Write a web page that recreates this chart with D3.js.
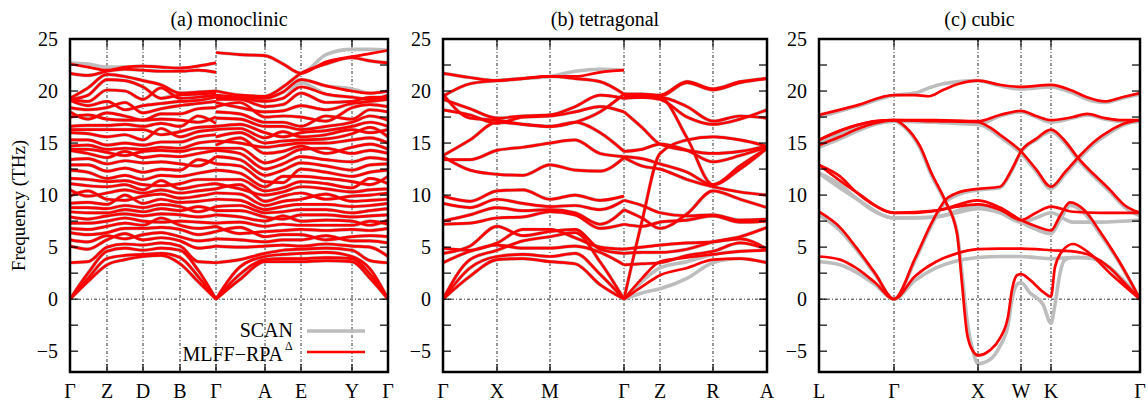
<!DOCTYPE html>
<html>
<head>
<meta charset="utf-8">
<script src="https://cdn.jsdelivr.net/npm/d3@7"></script>
<style>
body { margin: 0; background: #fff; }
svg, text { font-family: "Liberation Serif", "Times New Roman", Times, serif; }
</style>
</head>
<body>
<svg id="chart" width="1148" height="402"></svg>
<script>
// ---------- data ----------
var panelTitles = ["(a) monoclinic", "(b) tetragonal", "(c) cubic"];
var seriesNames = ["SCAN", "MLFF\u2212RPA"];
var yLabelValues = [-5, 0, 5, 10, 15, 20, 25];

// (a) monoclinic: path distance of labels and sampled columns (36 bands each)
var monoLabels = ["\u0393", "Z", "D", "B", "\u0393", "A", "E", "Y", "\u0393"];
var monoLabelK = [0, 37, 73, 110, 146, 195, 231, 282, 318];
var monoK1 = [0, 18, 37, 55, 73, 91, 110, 128, 146];
var monoK2 = [146, 170, 195, 213, 231, 256, 282, 300, 318];
var monoCols1 = [
  [0,0,0,3.5,5.1,5.7,6.4,6.8,7.3,7.9,8.4,8.8,9.2,9.9,10.5,11.1,11.6,12.4,12.9,13.4,14.3,14.4,14.7,15.3,16.0,16.3,16.6,17.5,18.0,18.4,19.1,19.2,19.2,19.3,21.7,22.6],
  [1.7,2.0,2.5,3.6,4.8,5.5,6.2,6.7,7.3,7.7,8.3,8.8,9.3,9.9,10.4,10.9,11.5,12.2,12.9,13.5,14.0,14.4,14.8,15.3,15.9,16.3,16.7,17.3,17.7,18.2,18.6,19.0,19.6,20.3,21.5,22.3],
  [3.3,3.9,4.6,5.0,5.7,6.1,6.4,7.0,7.5,8.0,8.3,8.7,9.1,9.6,10.2,10.8,11.3,11.6,12.3,13.0,13.6,14.1,14.4,14.8,15.6,16.3,16.7,17.3,17.9,18.4,19.0,20.1,21.1,21.6,21.9,22.0],
  [3.8,4.2,4.9,5.3,5.8,6.3,6.8,7.3,7.8,8.2,8.6,9.0,9.5,10.0,10.5,11.0,11.4,11.9,12.6,13.3,13.8,14.2,14.5,15.0,15.8,16.3,16.8,17.2,17.6,18.2,18.9,20.0,21.0,21.4,22.1,22.3],
  [4.1,4.3,4.7,5.2,5.7,6.2,6.8,7.1,7.5,8.0,8.4,8.8,9.2,9.9,10.2,10.5,11.0,11.5,12.2,13.1,13.6,14.2,14.4,14.8,15.3,16.3,16.6,17.2,17.2,17.9,18.6,19.2,20.4,21.0,22.0,22.4],
  [4.2,4.4,4.9,5.4,5.9,6.4,6.9,7.4,7.8,8.2,8.7,9.1,9.6,10.1,10.5,10.9,11.4,11.9,12.5,13.2,13.8,14.3,14.6,15.1,15.8,16.4,16.9,17.3,17.8,18.3,18.8,19.3,20.3,20.6,21.9,22.3],
  [3.4,4.0,4.7,5.1,5.6,6.0,6.7,7.1,7.5,8.1,8.5,8.9,9.3,9.7,10.2,10.6,11.1,11.8,12.4,13.0,13.7,14.2,14.5,15.1,15.6,16.1,16.6,17.2,17.8,18.6,19.0,19.3,19.6,19.8,21.9,22.2],
  [1.7,2.2,2.8,3.6,4.9,5.6,6.2,6.8,7.4,7.9,8.4,8.9,9.4,9.9,10.4,10.9,11.5,12.1,12.8,13.4,14.0,14.5,15.0,15.6,16.1,16.5,17.0,17.6,18.3,18.8,19.1,19.4,19.7,19.9,22.0,22.4],
  [0,0,0,3.5,5.1,5.8,6.5,7.0,7.3,8.1,8.5,8.9,9.6,10.2,10.6,11.1,11.5,12.4,13.0,13.7,14.3,14.5,15.2,15.8,16.3,16.6,16.9,17.5,18.4,19.0,19.4,19.6,19.8,20.0,21.8,22.7]
];
var monoCols2 = [
  [0,0,0,3.5,5.1,5.8,6.5,7.0,7.3,8.1,8.5,8.9,9.6,10.2,10.6,11.1,11.5,12.4,13.0,13.7,14.3,14.5,14.8,15.2,15.6,16.3,16.6,17.4,18.0,18.5,18.9,19.2,19.4,19.6,20.0,23.7],
  [1.9,2.4,3.1,3.8,5.0,5.7,6.3,6.9,7.4,7.9,8.5,9.0,9.5,10.1,10.6,11.0,11.5,12.1,12.8,13.4,14.0,14.5,15.0,15.5,16.0,16.4,16.8,17.3,17.8,18.4,18.9,19.2,19.3,19.4,19.6,23.5],
  [3.6,3.8,4.1,4.4,5.1,5.5,6.0,6.5,7.0,7.5,7.9,8.3,8.6,9.0,9.4,10.0,10.4,10.8,11.3,11.9,12.5,13.1,14.0,14.6,15.0,15.5,16.0,16.6,17.0,17.5,18.0,18.5,19.0,19.3,19.5,23.4],
  [3.6,3.9,4.3,4.7,5.2,5.7,6.2,6.6,7.2,7.7,8.0,8.4,8.9,9.4,9.9,10.3,10.7,11.2,11.8,12.4,13.0,13.6,14.2,14.8,15.2,15.6,16.1,16.6,17.0,17.6,18.1,18.7,19.3,19.9,20.4,22.6],
  [3.6,3.9,4.4,4.8,5.1,5.7,6.2,6.7,7.1,7.5,8.1,8.6,9.1,9.6,10.2,10.8,11.3,11.8,12.5,13.1,13.7,14.4,14.7,15.0,15.3,15.6,16.0,16.3,16.6,17.5,18.6,19.8,20.4,21.1,21.7,21.7],
  [3.7,4.0,4.5,4.9,5.3,5.7,6.1,6.6,7.1,7.6,8.1,8.6,9.1,9.6,10.1,10.6,11.1,11.6,12.2,12.8,13.4,14.0,14.5,15.0,15.4,15.8,16.2,16.6,17.1,17.6,18.2,18.9,19.7,20.5,22.6,22.8],
  [3.6,3.9,4.1,4.7,5.1,5.6,6.0,6.7,7.1,7.5,7.9,8.3,8.9,9.4,9.9,10.3,10.7,11.3,11.8,12.4,13.2,14.0,14.6,15.3,15.9,16.3,16.6,17.0,17.3,18.4,18.8,19.0,19.4,20.0,23.2,23.3],
  [2.0,2.4,2.9,3.7,5.0,5.6,6.1,6.6,7.1,7.5,8.0,8.5,9.0,9.5,10.0,10.5,11.0,11.6,12.2,12.9,13.6,14.3,14.9,15.5,16.0,16.5,17.0,17.6,18.2,18.7,19.0,19.2,19.4,19.8,22.9,23.6],
  [0,0,0,3.5,4.1,5.4,6.0,6.8,7.2,7.6,8.1,8.7,9.2,9.6,10.2,10.6,11.1,11.8,12.4,13.0,13.4,14.0,14.4,15.0,15.6,16.3,16.6,17.2,18.0,18.5,19.2,19.4,19.6,20.0,22.7,23.9]
];
// band pairs that cross at a column: [group, column, lower band]
var monoCross = [
  [0,1,13],[0,1,27],[0,3,4],[0,3,12],[0,3,20],[0,3,29],[0,5,7],[0,5,15],[0,5,24],[0,5,31],
  [0,7,10],[0,7,18],[0,7,26],[1,1,6],[1,1,14],[1,1,22],[1,1,29],[1,3,9],[1,3,17],[1,3,25],
  [1,5,5],[1,5,13],[1,5,21],[1,5,28],[1,7,8],[1,7,16],[1,7,24],[1,7,31]
];
// SCAN values where they differ from MLFF: [group, column, band, value]
var monoScanFix = [
  [0,0,35,22.7],[0,1,35,22.6],[0,2,35,22.3],[0,6,32,19.8],
  [1,5,35,23.5],[1,6,35,24.0],[1,7,35,24.0],[1,6,33,20.2],[1,4,32,20.8]
];

// (b) tetragonal: 18 bands, one row per band
var tetLabels = ["\u0393", "X", "M", "\u0393", "Z", "R", "A"];
var tetLabelK = [0, 54, 107, 181, 217, 270, 324];
var tetK1 = [0, 27, 54, 80, 107, 132, 157, 181];
var tetK2 = [181, 199, 217, 244, 270, 297, 324];
var tetRows1 = [
  [0, 2.2, 3.8, 3.9, 3.6, 3.4, 1.4, 0],
  [0, 3.0, 4.1, 4.3, 4.1, 4.4, 2.4, 0],
  [0, 3.8, 4.7, 5.6, 6.0, 6.4, 3.6, 0],
  [3.5, 4.6, 5.2, 4.9, 4.9, 5.1, 4.5, 3.3],
  [4.4, 5.1, 7.0, 6.1, 6.5, 6.7, 4.8, 4.4],
  [4.9, 4.7, 5.4, 6.7, 6.7, 5.9, 5.0, 4.8],
  [7.2, 7.3, 7.8, 7.9, 8.4, 8.1, 6.8, 7.2],
  [7.5, 8.1, 8.8, 8.5, 8.6, 8.3, 7.2, 8.6],
  [9.2, 8.8, 9.6, 9.2, 8.9, 9.0, 8.6, 9.5],
  [9.9, 9.4, 10.4, 10.5, 9.6, 10.0, 9.5, 9.9],
  [13.7, 12.4, 12.0, 11.9, 12.9, 12.4, 12.3, 13.6],
  [13.4, 13.4, 14.3, 14.6, 15.0, 15.3, 14.0, 13.7],
  [13.8, 15.3, 17.0, 16.8, 16.6, 17.0, 16.0, 14.2],
  [18.2, 17.7, 16.9, 17.5, 17.6, 18.0, 18.5, 18.0],
  [19.2, 18.3, 17.4, 17.6, 17.7, 18.5, 19.6, 19.3],
  [19.5, 20.7, 21.0, 21.2, 21.4, 21.2, 20.9, 19.7],
  [19.7, 17.4, 17.2, 16.8, 16.6, 17.0, 18.0, 19.7],
  [21.7, 21.3, 21.0, 21.2, 21.4, 21.4, 21.8, 22.0]
];
var tetRows2 = [
  [0, 1.2, 2.3, 3.0, 3.8, 3.9, 3.5],
  [0, 2.0, 3.6, 4.0, 4.3, 4.6, 4.7],
  [0, 7.5, 14.0, 15.3, 15.6, 15.3, 14.7],
  [3.3, 3.4, 3.5, 4.2, 4.6, 5.4, 4.8],
  [4.4, 4.5, 4.5, 4.8, 5.5, 6.0, 6.9],
  [4.8, 5.0, 5.2, 5.4, 5.5, 5.8, 4.8],
  [7.2, 7.0, 7.4, 7.6, 8.0, 7.4, 7.5],
  [8.6, 7.8, 6.8, 8.2, 10.4, 9.6, 8.8],
  [9.5, 9.0, 8.3, 8.0, 8.1, 7.6, 7.7],
  [13.6, 12.8, 12.5, 11.5, 10.8, 10.3, 10.0],
  [13.7, 13.5, 13.0, 12.2, 11.0, 12.5, 14.5],
  [14.2, 14.4, 14.9, 14.3, 13.2, 13.8, 14.6],
  [18.0, 16.5, 14.9, 14.3, 14.0, 14.2, 14.7],
  [19.3, 19.4, 19.2, 17.5, 16.8, 17.3, 18.2],
  [19.4, 19.4, 19.4, 18.5, 17.1, 17.6, 17.4],
  [19.6, 19.5, 19.4, 15.5, 11.0, 12.8, 14.5],
  [19.7, 19.6, 19.5, 20.8, 20.1, 20.8, 21.2],
  [19.7, 19.7, 19.6, 20.9, 20.2, 20.9, 21.2]
];
// SCAN values where they differ: [group, band, column, value]
var tetScanFix = [
  [0,17,5,21.9],[0,17,6,22.1],
  [1,0,1,0.6],[1,0,2,1.0],[1,0,3,2.0],[1,0,4,3.5],[1,1,1,1.7],[1,1,2,3.0],[1,1,3,3.6]
];

// (c) cubic: each branch as [path distance, THz]
var cubLabels = ["L", "\u0393", "X", "W", "K", "\u0393"];
var cubLabelK = [0, 75, 159, 202, 232, 321];
var cubRed = [
  [[0,17.7],[37,18.6],[75,19.6],[96,19.6],[110,19.5],[124,20.1],[140,20.7],[159,21.0],[181,20.6],[202,20.4],[232,20.6],[254,20.0],[268,19.4],[286,19.0],[303,19.4],[321,19.8]],
  [[0,15.3],[21,16.2],[37,16.7],[56,17.1],[75,17.2],[117,17.2],[159,17.1],[181,17.7],[202,18.1],[217,17.6],[232,17.2],[254,17.5],[268,17.8],[286,17.4],[303,17.2],[321,17.2]],
  [[0,14.8],[21,15.6],[37,16.3],[56,16.9],[75,17.2],[86,16.6],[101,14.7],[113,12.0],[126,9.5],[138,6.3],[143,1.5],[148,-3.3],[154,-5.0],[159,-5.4],[171,-4.9],[181,-3.75],[189,-1.7],[193,0.9],[198,2.3],[202,2.4],[211,1.85],[224,0.7],[232,0.25],[236,3.1],[244,4.7],[254,5.3],[268,4.6],[291,2.5],[321,0]],
  [[0,12.9],[21,11.8],[37,10.3],[56,9.0],[75,8.3],[96,8.3],[117,8.5],[138,8.9],[159,9.1],[181,8.6],[202,7.6],[217,8.3],[232,8.9],[254,8.4],[281,8.3],[321,8.3]],
  [[0,12.9],[37,10.3],[75,8.3],[117,8.5],[159,9.5],[181,8.8],[202,7.6],[217,7.0],[232,6.6],[241,8.0],[251,9.3],[266,8.5],[281,6.5],[301,3.5],[321,0]],
  [[0,8.4],[21,6.9],[37,5.0],[56,2.5],[75,0],[96,3.9],[113,7.4],[126,9.5],[138,10.2],[159,10.6],[181,10.8],[193,12.5],[202,14.2],[217,15.4],[232,16.3],[246,15.2],[258,13.7],[291,10.5],[306,9.0],[321,8.3]],
  [[0,15.3],[37,16.7],[75,17.2],[117,17.1],[159,17.0],[171,16.5],[181,15.8],[202,14.2],[217,12.5],[232,10.8],[246,12.2],[261,13.8],[276,15.2],[291,16.2],[306,16.9],[321,17.2]],
  [[0,4.1],[21,3.8],[37,3.0],[56,1.6],[75,0],[96,2.2],[117,3.6],[138,4.4],[159,4.8],[181,4.85],[202,4.85],[217,4.8],[232,4.7],[254,4.6],[274,4.1],[291,3.0],[306,1.5],[321,0]]
];
var cubScan = [
  [[0,17.5],[37,18.5],[75,19.6],[96,19.8],[110,20.3],[124,20.7],[140,20.9],[159,21.0],[181,20.5],[202,20.2],[232,20.4],[254,19.8],[268,19.2],[286,18.9],[303,19.3],[321,19.7]],
  [[0,15.0],[21,15.9],[37,16.5],[56,17.0],[75,17.1],[117,17.0],[159,16.8],[181,17.6],[202,18.0],[217,17.5],[232,17.0],[254,17.4],[268,17.7],[286,17.3],[303,17.1],[321,17.1]],
  [[0,14.6],[21,15.4],[37,16.1],[56,16.8],[75,17.1],[86,16.5],[101,14.5],[113,11.8],[126,9.4],[138,6.5],[143,2.5],[148,-2.0],[154,-5.0],[159,-6.2],[171,-5.8],[181,-4.5],[189,-2.5],[193,0.0],[198,1.4],[202,1.6],[211,0.6],[224,-0.5],[232,-2.3],[236,-0.5],[241,2.5],[246,3.8],[254,4.0],[268,4.0],[291,3.0],[321,0]],
  [[0,12.1],[21,11.0],[37,9.7],[56,8.4],[75,7.8],[96,7.8],[117,7.9],[138,8.3],[159,8.7],[181,8.3],[202,7.4],[217,7.8],[232,8.3],[254,7.4],[281,7.4],[321,7.6]],
  [[0,12.1],[37,9.7],[75,7.8],[117,7.9],[159,9.0],[181,8.4],[202,7.4],[217,6.7],[232,6.3],[241,7.6],[251,9.0],[266,8.2],[281,6.3],[301,3.4],[321,0]],
  [[0,8.1],[21,6.6],[37,4.8],[56,2.4],[75,0],[96,3.7],[113,7.2],[126,9.3],[138,10.0],[159,10.5],[181,10.7],[193,12.4],[202,14.1],[217,15.3],[232,16.1],[246,15.0],[258,13.5],[291,10.3],[306,8.8],[321,8.0]],
  [[0,15.0],[37,16.5],[75,17.1],[117,17.0],[159,16.8],[171,16.3],[181,15.6],[202,14.0],[217,12.3],[232,10.6],[246,12.0],[261,13.6],[276,15.0],[291,16.0],[306,16.8],[321,17.1]],
  [[0,3.6],[21,3.3],[37,2.6],[56,1.4],[75,0],[96,1.8],[117,3.0],[138,3.7],[159,4.0],[181,4.1],[202,4.1],[217,4.0],[232,3.9],[254,4.0],[274,3.9],[291,3.0],[306,1.5],[321,0]]
];

// ---------- layout ----------
var svgWidth = 1148;
var svgHeight = 402;
var plotTop = 39;
var plotBottom = 372;
var frames = [[70, 388], [443, 767], [819, 1140]];

var svg = d3.select("#chart");

var y = d3.scaleLinear().domain([-7, 25]).range([plotBottom, plotTop]);

// turn columns (one value per band at each sampled k) into band polylines
function columnsToBands(k, cols, fix, cross, group) {
  var c = cols.map(function(col) { return col.slice(); });
  (cross || []).filter(f => f[0] === group).forEach(function(f) {
    var t = c[f[1]][f[2]];
    c[f[1]][f[2]] = c[f[1]][f[2] + 1];
    c[f[1]][f[2] + 1] = t;
  });
  (fix || []).filter(f => f[0] === group).forEach(function(f) {
    c[f[1]][f[2]] = f[3];
  });
  return d3.range(c[0].length).map(function(b) {
    return k.map(function(kk, i) { return [kk, c[i][b]]; });
  });
}

// rows are already one band each
function rowsToBands(k, rows, fix, group) {
  var r = rows.map(row => row.slice());
  (fix || []).filter(f => f[0] === group).forEach(function(f) {
    r[f[1]][f[2]] = f[3];
  });
  return r.map(row => k.map((kk, i) => [kk, row[i]]));
}

var panels = [
  {
    labels: monoLabels, labelK: monoLabelK,
    red: columnsToBands(monoK1, monoCols1, null, monoCross, 0)
      .concat(columnsToBands(monoK2, monoCols2, null, monoCross, 1)),
    grey: columnsToBands(monoK1, monoCols1, monoScanFix, monoCross, 0)
      .concat(columnsToBands(monoK2, monoCols2, monoScanFix, monoCross, 1))
  },
  {
    labels: tetLabels, labelK: tetLabelK,
    red: rowsToBands(tetK1, tetRows1, null, 0).concat(rowsToBands(tetK2, tetRows2, null, 1)),
    grey: rowsToBands(tetK1, tetRows1, tetScanFix, 0).concat(rowsToBands(tetK2, tetRows2, tetScanFix, 1))
  },
  { labels: cubLabels, labelK: cubLabelK, red: cubRed, grey: cubScan }
];

panels.forEach(function(p, pi) {
  var left = frames[pi][0], right = frames[pi][1];
  var x = d3.scaleLinear()
    .domain([p.labelK[0], p.labelK[p.labelK.length - 1]])
    .range([left, right]);

  var g = svg.append("g");

  g.append("clipPath").attr("id", "clip" + pi)
    .append("rect")
    .attr("x", left).attr("y", plotTop)
    .attr("width", right - left).attr("height", plotBottom - plotTop);

  // high-symmetry lines and zero line
  g.selectAll(".vline")
    .data(p.labelK.slice(1, -1))
    .enter().append("line")
    .attr("x1", d => x(d)).attr("x2", d => x(d))
    .attr("y1", plotTop).attr("y2", plotBottom)
    .attr("stroke", "#000").attr("stroke-width", 0.8)
    .attr("stroke-dasharray", "3,2,1,2");

  g.append("line")
    .attr("x1", left).attr("x2", right)
    .attr("y1", y(0)).attr("y2", y(0))
    .attr("stroke", "#000").attr("stroke-width", 0.8)
    .attr("stroke-dasharray", "3,2,1,2");

  var line = d3.line()
    .x(d => x(d[0]))
    .y(d => y(d[1]))
    .curve(d3.curveMonotoneX);

  var bands = g.append("g").attr("clip-path", "url(#clip" + pi + ")");

  bands.selectAll(".scan")
    .data(p.grey)
    .enter().append("path")
    .attr("d", line)
    .attr("fill", "none")
    .attr("stroke", "#bdbdbd")
    .attr("stroke-width", 3.6)
    .attr("stroke-linejoin", "round");

  bands.selectAll(".mlff")
    .data(p.red)
    .enter().append("path")
    .attr("d", line)
    .attr("fill", "none")
    .attr("stroke", "#ff0000")
    .attr("stroke-width", 2.7)
    .attr("stroke-linejoin", "round");

  // y ticks (inward, both sides)
  var yTicks = d3.range(-5, 25.01, 2.5);
  g.selectAll(".ytl")
    .data(yTicks)
    .enter().append("line")
    .attr("x1", left).attr("x2", left + 8)
    .attr("y1", d => y(d)).attr("y2", d => y(d))
    .attr("stroke", "#000").attr("stroke-width", 1.2);
  g.selectAll(".ytr")
    .data(yTicks)
    .enter().append("line")
    .attr("x1", right - 8).attr("x2", right)
    .attr("y1", d => y(d)).attr("y2", d => y(d))
    .attr("stroke", "#000").attr("stroke-width", 1.2);

  g.selectAll(".ylab")
    .data(yLabelValues)
    .enter().append("text")
    .attr("x", left - 12)
    .attr("y", d => y(d))
    .attr("dy", "0.34em")
    .attr("text-anchor", "end")
    .attr("font-size", 20)
    .text(d => d < 0 ? "\u2212" + Math.abs(d) : d);

  // x ticks at labels (inward, top and bottom)
  var inner = p.labelK.slice(1, -1);
  g.selectAll(".xtb")
    .data(inner)
    .enter().append("line")
    .attr("x1", d => x(d)).attr("x2", d => x(d))
    .attr("y1", plotBottom).attr("y2", plotBottom - 8)
    .attr("stroke", "#000").attr("stroke-width", 1.2);
  g.selectAll(".xtt")
    .data(inner)
    .enter().append("line")
    .attr("x1", d => x(d)).attr("x2", d => x(d))
    .attr("y1", plotTop).attr("y2", plotTop + 8)
    .attr("stroke", "#000").attr("stroke-width", 1.2);

  g.selectAll(".xlab")
    .data(p.labels)
    .enter().append("text")
    .attr("x", (d, i) => x(p.labelK[i]))
    .attr("y", 398)
    .attr("text-anchor", "middle")
    .attr("font-size", 20)
    .text(d => d);

  g.append("rect")
    .attr("x", left).attr("y", plotTop)
    .attr("width", right - left).attr("height", plotBottom - plotTop)
    .attr("fill", "none")
    .attr("stroke", "#000")
    .attr("stroke-width", 2.5);

  g.append("text")
    .attr("x", (left + right) / 2)
    .attr("y", 26)
    .attr("text-anchor", "middle")
    .attr("font-size", 20)
    .text(panelTitles[pi]);
});

svg.append("text")
  .attr("transform", "translate(25," + ((plotTop + plotBottom) / 2) + ") rotate(-90)")
  .attr("text-anchor", "middle")
  .attr("font-size", 19)
  .text("Frequency (THz)");

// legend
var legend = svg.append("g");
legend.append("text")
  .attr("x", 293).attr("y", 337)
  .attr("text-anchor", "end")
  .attr("font-size", 20)
  .text(seriesNames[0]);
legend.append("line")
  .attr("x1", 307).attr("x2", 365)
  .attr("y1", 331).attr("y2", 331)
  .attr("stroke", "#bdbdbd").attr("stroke-width", 3.6);

legend.append("text")
  .attr("x", 283).attr("y", 361)
  .attr("text-anchor", "end")
  .attr("font-size", 20)
  .text(seriesNames[1]);
legend.append("text")
  .attr("x", 285).attr("y", 350)
  .attr("font-size", 12)
  .text("\u0394");
legend.append("line")
  .attr("x1", 307).attr("x2", 365)
  .attr("y1", 352).attr("y2", 352)
  .attr("stroke", "#ff0000").attr("stroke-width", 2.7);
</script>
</body>
</html>
